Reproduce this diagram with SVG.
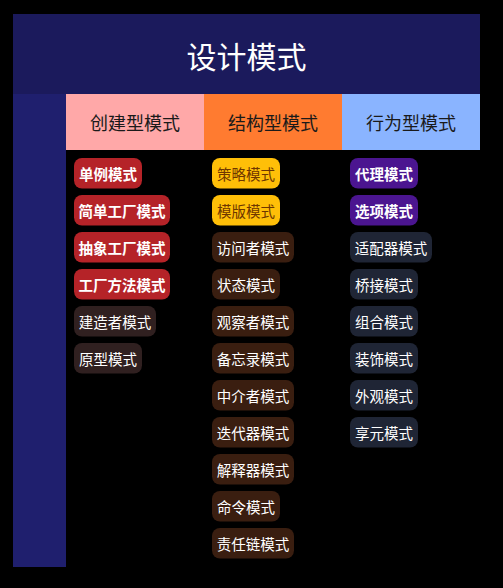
<svg xmlns="http://www.w3.org/2000/svg" width="503" height="588" viewBox="0 0 503 588">
<style>
text{font-family:"Noto Sans CJK SC","Liberation Sans",sans-serif;}
.title{font-size:30px;fill:#ffffff;text-anchor:middle;dominant-baseline:central;}
.hdr{font-size:18px;fill:#1a1a1a;text-anchor:middle;dominant-baseline:central;}
.ct{font-size:14.5px;text-anchor:middle;dominant-baseline:central;fill:#ffffff;}
.b{font-weight:bold;}
.red rect{fill:#b52328;}
.yel rect{fill:#ffbf08;}
.yel text{fill:#6e3600;}
.pur rect{fill:#4b1590;}
.d1 rect{fill:#302020;}
.d2 rect{fill:#3a1e10;}
.d3 rect{fill:#1f2535;}
</style>
<rect x="0" y="0" width="503" height="588" fill="#000000"/>
<g id="title"><rect x="13" y="14" width="467" height="80" fill="#1b1a5c"/><text class="title" x="246.5" y="55">设计模式</text></g>
<g id="sidebar"><rect x="13" y="94" width="53" height="473" fill="#1f1f6e"/></g>
<g id="hdr-create"><rect x="66" y="94" width="138" height="56" fill="#ffa8a8"/><text class="hdr" x="135" y="122">创建型模式</text></g>
<g id="hdr-struct"><rect x="204" y="94" width="138" height="56" fill="#ff7b30"/><text class="hdr" x="273" y="122">结构型模式</text></g>
<g id="hdr-behav"><rect x="342" y="94" width="138" height="56" fill="#8ab4ff"/><text class="hdr" x="411" y="122">行为型模式</text></g>
<g id="connectors"></g>
<!-- column 1 -->
<g id="c1-0" class="red"><rect x="74" y="158" width="68" height="30.5" rx="8"/><text class="ct b" x="108" y="173">单例模式</text></g>
<g id="c1-1" class="red"><rect x="74" y="195" width="96" height="30.5" rx="8"/><text class="ct b" x="122" y="210">简单工厂模式</text></g>
<g id="c1-2" class="red"><rect x="74" y="232" width="96" height="30.5" rx="8"/><text class="ct b" x="122" y="247">抽象工厂模式</text></g>
<g id="c1-3" class="red"><rect x="74" y="269" width="96" height="30.5" rx="8"/><text class="ct b" x="122" y="284">工厂方法模式</text></g>
<g id="c1-4" class="d1"><rect x="74" y="306" width="82" height="30.5" rx="8"/><text class="ct" x="115" y="321">建造者模式</text></g>
<g id="c1-5" class="d1"><rect x="74" y="343" width="68" height="30.5" rx="8"/><text class="ct" x="108" y="358">原型模式</text></g>
<!-- column 2 -->
<g id="c2-0" class="yel"><rect x="212" y="158" width="68" height="30.5" rx="8"/><text class="ct" x="246" y="173">策略模式</text></g>
<g id="c2-1" class="yel"><rect x="212" y="195" width="68" height="30.5" rx="8"/><text class="ct" x="246" y="210">模版模式</text></g>
<g id="c2-2" class="d2"><rect x="212" y="232" width="82" height="30.5" rx="8"/><text class="ct" x="253" y="247">访问者模式</text></g>
<g id="c2-3" class="d2"><rect x="212" y="269" width="68" height="30.5" rx="8"/><text class="ct" x="246" y="284">状态模式</text></g>
<g id="c2-4" class="d2"><rect x="212" y="306" width="82" height="30.5" rx="8"/><text class="ct" x="253" y="321">观察者模式</text></g>
<g id="c2-5" class="d2"><rect x="212" y="343" width="82" height="30.5" rx="8"/><text class="ct" x="253" y="358">备忘录模式</text></g>
<g id="c2-6" class="d2"><rect x="212" y="380" width="82" height="30.5" rx="8"/><text class="ct" x="253" y="395">中介者模式</text></g>
<g id="c2-7" class="d2"><rect x="212" y="417" width="82" height="30.5" rx="8"/><text class="ct" x="253" y="432">迭代器模式</text></g>
<g id="c2-8" class="d2"><rect x="212" y="454" width="82" height="30.5" rx="8"/><text class="ct" x="253" y="469">解释器模式</text></g>
<g id="c2-9" class="d2"><rect x="212" y="491" width="68" height="30.5" rx="8"/><text class="ct" x="246" y="506">命令模式</text></g>
<g id="c2-10" class="d2"><rect x="212" y="528" width="82" height="30.5" rx="8"/><text class="ct" x="253" y="543">责任链模式</text></g>
<!-- column 3 -->
<g id="c3-0" class="pur"><rect x="350" y="158" width="68" height="30.5" rx="8"/><text class="ct b" x="384" y="173">代理模式</text></g>
<g id="c3-1" class="pur"><rect x="350" y="195" width="68" height="30.5" rx="8"/><text class="ct b" x="384" y="210">选项模式</text></g>
<g id="c3-2" class="d3"><rect x="350" y="232" width="82" height="30.5" rx="8"/><text class="ct" x="391" y="247">适配器模式</text></g>
<g id="c3-3" class="d3"><rect x="350" y="269" width="68" height="30.5" rx="8"/><text class="ct" x="384" y="284">桥接模式</text></g>
<g id="c3-4" class="d3"><rect x="350" y="306" width="68" height="30.5" rx="8"/><text class="ct" x="384" y="321">组合模式</text></g>
<g id="c3-5" class="d3"><rect x="350" y="343" width="68" height="30.5" rx="8"/><text class="ct" x="384" y="358">装饰模式</text></g>
<g id="c3-6" class="d3"><rect x="350" y="380" width="68" height="30.5" rx="8"/><text class="ct" x="384" y="395">外观模式</text></g>
<g id="c3-7" class="d3"><rect x="350" y="417" width="68" height="30.5" rx="8"/><text class="ct" x="384" y="432">享元模式</text></g>
</svg>
